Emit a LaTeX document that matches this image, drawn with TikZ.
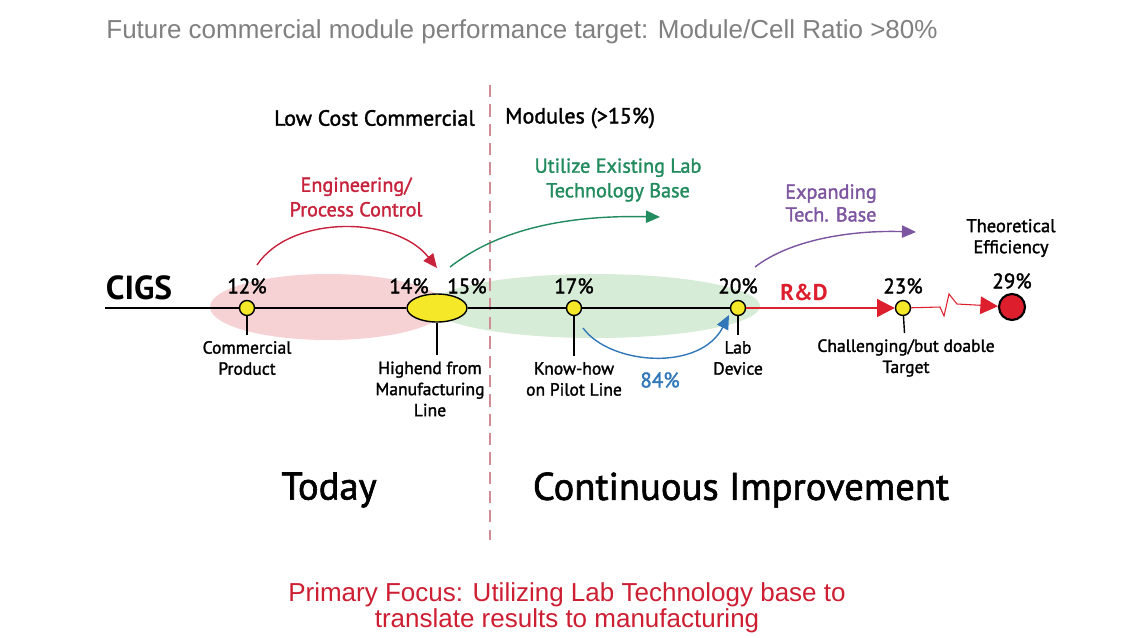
\documentclass[tikz,border=0pt]{standalone}
\usepackage{fontspec}
\setmainfont{PT Sans}
\newfontfamily\semifont[FakeBold=1.6]{PT Sans}
\newfontfamily\arialfont{Liberation Sans}
\usetikzlibrary{arrows.meta,positioning,shapes.geometric}
\tikzset{>={Triangle[length=8pt,width=7pt]}}
\definecolor{engred}{RGB}{200,35,60}
\definecolor{labgreen}{RGB}{35,140,95}
\definecolor{techpurple}{RGB}{125,85,160}
\definecolor{pilotblue}{RGB}{50,120,185}
\definecolor{pinkfill}{RGB}{247,210,212}
\definecolor{greenfill}{RGB}{214,236,214}
\definecolor{dotyellow}{RGB}{245,232,40}
\definecolor{rdred}{RGB}{220,30,45}
\definecolor{focusred}{RGB}{205,30,50}
\definecolor{dashpink}{RGB}{210,140,150}
\tikzset{
  dot/.style={circle, draw=black, thick, fill=dotyellow, minimum size=0.3cm, inner sep=0pt},
  pct/.style={font=\semifont\fontsize{12}{14}\selectfont},
  lbl/.style={font=\semifont\fontsize{10}{12}\selectfont, align=center},
  arclbl/.style={font=\semifont\fontsize{11.5}{14}\selectfont, align=center},
  big/.style={font=\semifont\fontsize{22}{26}\selectfont},
  bigtip/.style={-{Triangle[length=10pt,width=10pt]}},
}

\begin{document}
\begin{tikzpicture}[x=0.02cm, y=-0.02cm]
            \useasboundingbox (0,0) rectangle (1140,637);
            \fill[white] (0,0) rectangle (1140,637);
            \fill[pinkfill] (328,307) ellipse [x radius=2.36cm, y radius=0.66cm];
            \fill[greenfill] (595,306) ellipse [x radius=3.3cm, y radius=0.64cm];
            \draw[dashpink, line width=0.8pt, dash pattern=on 7pt off 4pt] (490,85) -- (490,540);

            \node[gray, font=\arialfont\fontsize{14.8}{17}\selectfont] (title) at (522,32) {Future commercial module performance target: Module/Cell Ratio >80\%};
            \node[anchor=east, font=\semifont\fontsize{12.5}{14}\selectfont] (lowcost) at (481,118) {Low Cost Commercial};
            \node[anchor=west, font=\semifont\fontsize{12.5}{14}\selectfont] (modules) at (499,118) {Modules (>15\%)};

            \node[font=\fontsize{19}{21}\selectfont\bfseries] (cigs) at (139,288) {CIGS};
            \coordinate (start) at (105,308);
            \node[dot] (p12) at (247,308) {};
            \node[ellipse, draw=black, thick, fill=dotyellow, minimum width=1.2cm, minimum height=0.56cm, inner sep=0pt] (p14) at (437,308) {};
            \node[dot] (p17) at (574,308) {};
            \node[dot] (p20) at (738,308) {};
            \node[dot] (p23) at (903,308) {};
            \node[circle, draw=black, very thick, fill=rdred, minimum size=0.52cm, inner sep=0pt] (p29) at (1012,307) {};
            \draw[black, line width=1.2pt] (start) -- (p12) -- (p14) -- (p17) -- (p20);

            \node[pct] (t12) at (247,286) {12\%};
            \node[pct] (t14) at (409,286) {14\%};
            \node[pct] (t15) at (467,286) {15\%};
            \node[pct] (t17) at (574,286) {17\%};
            \node[pct] (t20) at (738,286) {20\%};
            \node[pct] (t23) at (903,286) {23\%};
            \node[pct] (t29) at (1012,281) {29\%};

            \node[lbl] (commercial) at (247,358) {Commercial\\Product};
            \node[lbl] (highend) at (430,389) {Highend from\\Manufacturing\\Line};
            \node[lbl] (knowhow) at (574,379) {Know-how\\on Pilot Line};
            \node[lbl] (lab) at (738,358) {Lab\\Device};
            \node[lbl] (target) at (906,358) {Challenging/but doable\\Target};
            \node[lbl, font=\semifont\fontsize{10.5}{12}\selectfont] (theory) at (1011,238) {Theoretical\\Efficiency};
            \draw[black, thick] (p12) -- (commercial);
            \draw[black, thick] (p14.south) -- (p14.south |- highend.north);
            \draw[black, thick] (p17) -- (knowhow);
            \draw[black, thick] (p20) -- (lab);
            \draw[black, thick] (p23) -- (target);

            \node[engred, arclbl] (eng) at (356,197) {Engineering/\\Process Control};
            \coordinate (engS) at (257,265);
            \coordinate (engE) at (437,268);
            \draw[engred, thick, ->] (engS) .. controls (290,215) and (395,215) .. (engE);

            \node[labgreen, arclbl] (util) at (618,180) {Utilize Existing Lab\\Technology Base};
            \coordinate (utilS) at (450,267);
            \coordinate (utilE) at (660,217);
            \draw[labgreen, thick, ->] (utilS) .. controls (500,228) and (570,215) .. (utilE);

            \node[techpurple, arclbl, font=\semifont\fontsize{11.5}{13}\selectfont] (expand) at (831,203) {Expanding\\Tech. Base};
            \coordinate (expS) at (755,267);
            \coordinate (expE) at (916,232);
            \draw[techpurple, thick, ->] (expS) .. controls (790,240) and (850,230) .. (expE);

            \coordinate (pilotS) at (583,328);
            \coordinate (pilotE) at (729,315);
            \draw[pilotblue, thick, ->] (pilotS) .. controls (610,365) and (700,372) .. (pilotE);
            \node[pilotblue, pct] (ratio) at (660,380) {84\%};

            \node[rdred, font=\fontsize{13}{15}\selectfont\bfseries] (rd) at (804,292) {R\&D};
            \draw[rdred, line width=1.2pt, bigtip] (p20) -- (p23);
            \draw[rdred, semithick, bigtip] (p23) -- (940,307) -- (944,316) -- (949,294) -- (957,304) -- (p29);

            \node[big] (today) at (329,490) {Today};
            \node[big] (continuous) at (741,490) {Continuous Improvement};

            \node[focusred, font=\arialfont\fontsize{14.8}{15}\selectfont, align=center] (focus) at (567,608) {Primary Focus: Utilizing Lab Technology base to\\translate results to manufacturing};
        \end{tikzpicture}
\end{document}
